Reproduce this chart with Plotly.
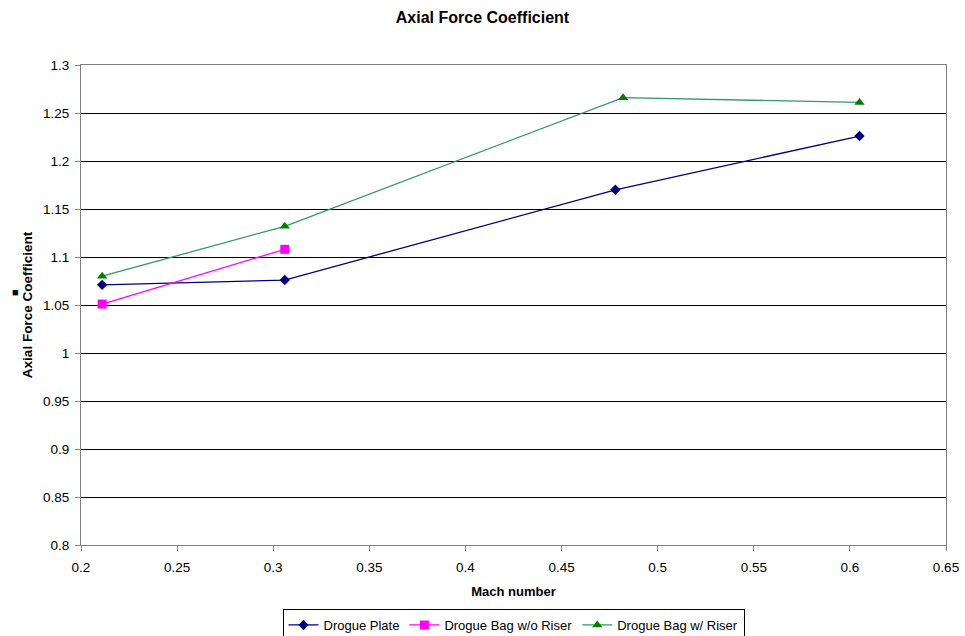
import plotly.graph_objects as go

# Mach number / axial force coefficient data
mach_plate = [0.211, 0.306, 0.478, 0.605]
cx_plate = [1.071, 1.076, 1.170, 1.226]

mach_bag_no_riser = [0.211, 0.306]
cx_bag_no_riser = [1.051, 1.108]

mach_bag_riser = [0.211, 0.306, 0.482, 0.605]
cx_bag_riser = [1.080, 1.132, 1.266, 1.261]

x_ticks = [0.2, 0.25, 0.3, 0.35, 0.4, 0.45, 0.5, 0.55, 0.6, 0.65]
y_ticks = [0.8, 0.85, 0.9, 0.95, 1, 1.05, 1.1, 1.15, 1.2, 1.25, 1.3]

FONT = "Liberation Sans, Arial, sans-serif"
L, R, T, B = 81, 19, 65, 91
PW, PH = 965 - L - R, 636 - T - B

fig = go.Figure()
fig.add_trace(go.Scatter(
    x=mach_plate, y=cx_plate, name="Drogue Plate", mode="lines+markers",
    line=dict(color="#000080", width=1.3),
    marker=dict(symbol="diamond", size=8, color="#000080"),
))
fig.add_trace(go.Scatter(
    x=mach_bag_no_riser, y=cx_bag_no_riser, name="Drogue Bag w/o Riser", mode="lines+markers",
    line=dict(color="#FF00FF", width=1.3),
    marker=dict(symbol="square", size=9, color="#FF00FF"),
))
fig.add_trace(go.Scatter(
    x=mach_bag_riser, y=cx_bag_riser, name="Drogue Bag w/ Riser", mode="lines+markers",
    line=dict(color="#339966", width=1.3),
    marker=dict(symbol="triangle-up", size=9, color="#008000"),
))

fig.update_layout(
    width=965, height=636,
    margin=dict(l=L, r=R, t=T, b=B, autoexpand=False),
    paper_bgcolor="white", plot_bgcolor="white",
    font=dict(family=FONT, size=13.5, color="black"),
    title=dict(text="<b>Axial Force Coefficient</b>", x=0.5, xanchor="center",
               y=1 - 17 / 636, yanchor="middle", font=dict(size=16, family=FONT)),
    showlegend=True,
    legend=dict(orientation="h", x=0.5, xanchor="center", y=-(609 - 545) / PH, yanchor="top",
                bordercolor="black", borderwidth=1, font=dict(size=13, family=FONT),
                itemwidth=30, tracegroupgap=0),
    xaxis=dict(
        range=[0.2, 0.65], tickmode="array", tickvals=x_ticks,
        ticktext=[f"{v:g}" for v in x_ticks],
        showgrid=False, zeroline=False,
        showline=True, linecolor="#808080", linewidth=1, mirror=True,
        ticks="outside", ticklen=5, tickcolor="#808080", ticklabelstandoff=5,
        title=dict(text="<b>Mach number</b>", font=dict(size=13, family=FONT), standoff=12),
    ),
    yaxis=dict(
        range=[0.8, 1.3], tickmode="array", tickvals=y_ticks,
        ticktext=[f"{v:g}" for v in y_ticks],
        showgrid=True, gridcolor="#000000", gridwidth=1, zeroline=False,
        showline=True, linecolor="#808080", linewidth=1, mirror=True,
        ticks="outside", ticklen=5, tickcolor="#808080", ticklabelstandoff=3,
        title=dict(text="<b>Axial Force Coefficient</b>", font=dict(size=13.5, family=FONT), standoff=7),
    ),
)

# small stray marker beside the y-axis title
fig.add_annotation(text="■", xref="paper", yref="paper",
                   x=-(L - 10) / PW, y=(545 - 292) / PH,
                   showarrow=False, font=dict(size=11, color="black"))

fig.write_html("out.html")
